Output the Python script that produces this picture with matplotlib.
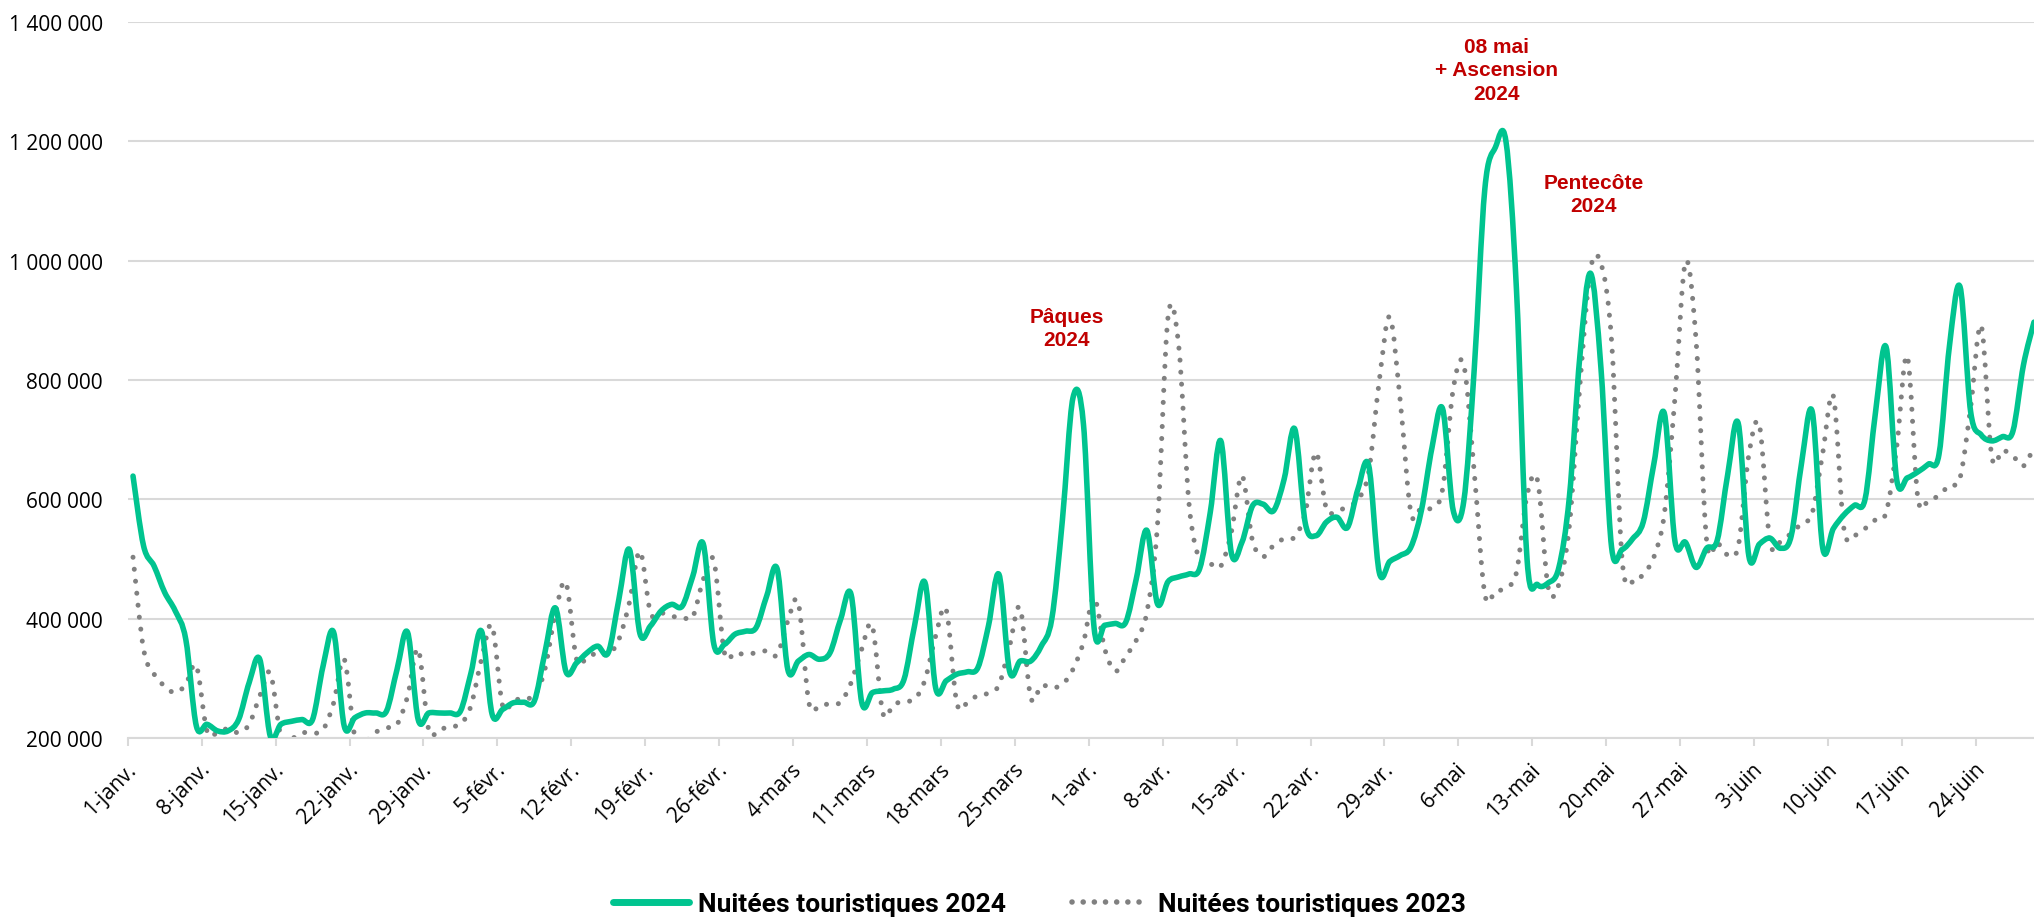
import matplotlib.pyplot as plt
import numpy as np
import pandas as pd
from matplotlib.lines import Line2D
from matplotlib.patches import PathPatch
from matplotlib.path import Path
from matplotlib.ticker import FuncFormatter, FixedLocator

# Nuitées touristiques journalières, en milliers
nuitees_2024 = [
    639, 522, 488, 444, 413, 365, 220, 223, 212, 212, 231, 293, 332, 203,
    223, 228, 231, 231, 321, 377, 220, 234, 242, 242, 245, 315, 377, 231,
    242, 242, 242, 245, 309, 379, 240, 248, 259, 260, 262, 343, 418, 311,
    326, 343, 354, 343, 432, 516, 375, 388, 413, 424, 421, 471, 525, 357,
    357, 374, 379, 385, 438, 483, 315, 329, 340, 332, 343, 399, 440, 260,
    276, 279, 282, 298, 388, 460, 284, 296, 307, 311, 318, 388, 474, 312,
    329, 329, 354, 400, 565, 770, 725, 385, 389, 392, 394, 467, 548, 425,
    462, 470, 475, 484, 578, 698, 510, 528, 589, 592, 581, 634, 718, 560,
    539, 562, 570, 553, 618, 657, 478, 496, 506, 520, 582, 687, 752, 582,
    596, 819, 1120, 1190, 1200, 950, 499, 457, 460, 485, 603, 840, 979, 819,
    520, 516, 534, 562, 659, 744, 530, 528, 486, 518, 531, 642, 727, 505,
    525, 535, 518, 538, 662, 747, 518, 551, 574, 590, 600, 747, 855, 633,
    636, 646, 659, 675, 858, 956, 747, 708, 698, 705, 714, 825, 897,
]
nuitees_2023 = [
    503, 349, 307, 287, 276, 290, 321, 212, 209, 216, 209, 223, 270, 309,
    203, 199, 209, 208, 214, 259, 332, 203, 195, 210, 217, 223, 270, 349,
    214, 214, 220, 223, 254, 332, 388, 254, 262, 268, 270, 315, 410, 460,
    332, 335, 343, 340, 365, 427, 513, 410, 410, 404, 403, 403, 466, 497,
    343, 343, 340, 343, 346, 340, 396, 426, 259, 254, 258, 260, 293, 349,
    388, 242, 256, 262, 265, 298, 371, 415, 259, 259, 272, 275, 289, 354,
    418, 268, 288, 284, 290, 315, 361, 436, 350, 312, 337, 364, 411, 556,
    905, 860, 591, 498, 492, 488, 545, 640, 531, 504, 523, 534, 537, 578,
    679, 584, 581, 588, 600, 645, 798, 906, 763, 578, 586, 586, 617, 784,
    826, 645, 441, 446, 452, 478, 607, 631, 452, 457, 555, 791, 985, 995,
    866, 499, 461, 475, 503, 576, 770, 998, 867, 531, 528, 507, 522, 675,
    724, 529, 529, 543, 560, 577, 678, 773, 551, 540, 551, 566, 578, 688,
    840, 603, 598, 607, 624, 636, 754, 891, 672, 682, 673, 656, 688,
]
mois = {1: "janv.", 2: "févr.", 3: "mars", 4: "avr.", 5: "mai", 6: "juin"}
annotations = [
    ("Pâques\n2024", 88.4, 887000),
    ("08 mai\n+ Ascension\n2024", 129.1, 1320000),
    ("Pentecôte\n2024", 138.3, 1112000),
]

VERT = "#00C48F"
GRIS = "#808080"
ROUGE = "#C00000"
GRILLE = "#D9D9D9"


def courbe_lissee(x, y):
    """Chemin de Bézier passant par chaque point (ligne lissée façon Excel)."""
    pts = np.column_stack([x, y]).astype(float)
    n = len(pts)
    verts = [pts[0]]
    codes = [Path.MOVETO]
    for i in range(n - 1):
        p0 = pts[i - 1] if i > 0 else pts[i]
        p1, p2 = pts[i], pts[i + 1]
        p3 = pts[i + 2] if i + 2 < n else pts[i + 1]
        verts += [p1 + (p2 - p0) / 6, p2 - (p3 - p1) / 6, p2]
        codes += [Path.CURVE4] * 3
    return Path(verts, codes)


plt.rcParams["font.family"] = ["Open Sans", "DejaVu Sans"]

jours = pd.date_range("2024-01-01", periods=len(nuitees_2024), freq="D")
x = np.arange(len(jours))
y24 = np.array(nuitees_2024) * 1000
y23 = np.array(nuitees_2023) * 1000

fig = plt.figure(figsize=(20.34, 9.2), dpi=100)
ax = fig.add_axes([0.0628, 0.1967, 0.9372, 0.7783])

ax.add_patch(PathPatch(courbe_lissee(x, y23), fill=False, edgecolor=GRIS, lw=3.6,
                       linestyle=(0, (0.01, 2.4)), capstyle="round", zorder=2))
ax.add_patch(PathPatch(courbe_lissee(x, y24), fill=False, edgecolor=VERT, lw=4.0,
                       joinstyle="round", capstyle="round", zorder=3))

ax.set_xlim(-0.5, 180.0)
ax.set_ylim(200000, 1400000)
ax.set_yticks(np.arange(200000, 1400001, 200000))
ax.yaxis.set_major_formatter(FuncFormatter(lambda v, p: f"{v:,.0f}".replace(",", " ")))
ax.grid(axis="y", color=GRILLE, lw=1.5)
ax.set_axisbelow(True)

# Étiquettes hebdomadaires
pos = x[::7]
ax.set_xticks(pos)
ax.set_xticklabels([f"{jours[i].day}-{mois[jours[i].month]}" for i in pos],
                   rotation=45, ha="right", va="center", rotation_mode="anchor")
ax.xaxis.set_minor_locator(FixedLocator(pos - 0.5))
ax.tick_params(axis="x", which="major", length=0, pad=20, labelsize=15)
ax.tick_params(axis="x", which="minor", length=6, width=1.5, color=GRILLE)
ax.tick_params(axis="y", length=0, pad=18, labelsize=15)

for side in ["left", "right", "top"]:
    ax.spines[side].set_visible(False)
ax.spines["bottom"].set_color(GRILLE)
ax.spines["bottom"].set_linewidth(1.5)

for texte, xa, ya in annotations:
    ax.text(xa, ya, texte, color=ROUGE, fontsize=15, fontweight="bold",
            family=["Liberation Sans", "DejaVu Sans"], ha="center", va="center",
            linespacing=1.3)

poignees = [
    Line2D([], [], color=VERT, lw=5, solid_capstyle="round"),
    Line2D([], [], color=GRIS, lw=4, linestyle=(0, (0.01, 2.0)), dash_capstyle="round"),
]
fig.legend(poignees, ["Nuitées touristiques 2024", "Nuitées touristiques 2023"],
           loc="center", bbox_to_anchor=(0.511, 0.016), ncol=2, frameon=False,
           handlelength=2.9, handletextpad=0.35, columnspacing=2.5,
           prop={"family": ["Liberation Sans Narrow", "Roboto", "DejaVu Sans"],
                 "weight": "bold", "size": 19})

fig.savefig("out.png", dpi=100)
